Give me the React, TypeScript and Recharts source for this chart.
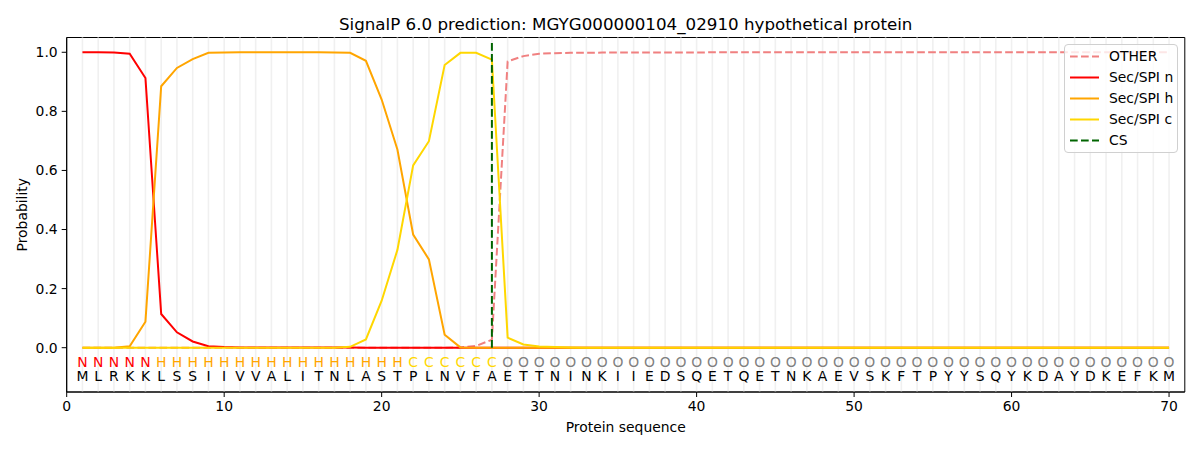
import {
  ComposedChart,
  Line,
  Scatter,
  XAxis,
  YAxis,
  ReferenceLine,
  ReferenceArea,
  Legend,
} from "recharts";

const FONT = "DejaVu Sans, sans-serif";

// residues of MGYG000000104_02910
const sequence = [
  "M", "L", "R", "K", "K", "L", "S", "S", "I", "I",
  "V", "V", "A", "L", "I", "T", "N", "L", "A", "S",
  "T", "P", "L", "N", "V", "F", "A", "E", "T", "T",
  "N", "I", "N", "K", "I", "I", "E", "D", "S", "Q",
  "E", "T", "Q", "E", "T", "N", "K", "A", "E", "V",
  "S", "K", "F", "T", "P", "Y", "Y", "S", "Q", "Y",
  "K", "D", "A", "Y", "D", "K", "E", "F", "K", "M",
];

// predicted region per residue
const regions = [
  "N", "N", "N", "N", "N", "H", "H", "H", "H", "H",
  "H", "H", "H", "H", "H", "H", "H", "H", "H", "H",
  "H", "C", "C", "C", "C", "C", "C", "O", "O", "O",
  "O", "O", "O", "O", "O", "O", "O", "O", "O", "O",
  "O", "O", "O", "O", "O", "O", "O", "O", "O", "O",
  "O", "O", "O", "O", "O", "O", "O", "O", "O", "O",
  "O", "O", "O", "O", "O", "O", "O", "O", "O", "O",
];

const otherProb = [
  0, 0, 0, 0, 0, 0, 0, 0, 0, 0,
  0, 0, 0, 0, 0, 0, 0, 0, 0, 0,
  0, 0, 0, 0, 0.001, 0.006, 0.027, 0.969, 0.987, 0.995,
  0.997, 0.998, 0.998, 0.999, 0.999, 0.999, 0.999, 0.999, 0.999, 0.999,
  1, 1, 1, 1, 1, 1, 1, 1, 1, 1,
  1, 1, 1, 1, 1, 1, 1, 1, 1, 1,
  1, 1, 1, 1, 1, 1, 1, 1, 1, 1,
];

const secN = [
  1, 1, 0.999, 0.995, 0.913, 0.114, 0.052, 0.021, 0.005, 0.002,
  0.001, 0.001, 0.001, 0.001, 0.001, 0.001, 0.001, 0.001, 0, 0,
  0, 0, 0, 0, 0, 0, 0, 0, 0, 0,
  0, 0, 0, 0, 0, 0, 0, 0, 0, 0,
  0, 0, 0, 0, 0, 0, 0, 0, 0, 0,
  0, 0, 0, 0, 0, 0, 0, 0, 0, 0,
  0, 0, 0, 0, 0, 0, 0, 0, 0, 0,
];

const secH = [
  0, 0, 0, 0.005, 0.088, 0.885, 0.947, 0.977, 0.998, 0.999,
  1, 1, 1, 1, 1, 1, 0.999, 0.998, 0.971, 0.84,
  0.671, 0.383, 0.299, 0.044, 0.001, 0, 0, 0, 0, 0,
  0, 0, 0, 0, 0, 0, 0, 0, 0, 0,
  0, 0, 0, 0, 0, 0, 0, 0, 0, 0,
  0, 0, 0, 0, 0, 0, 0, 0, 0, 0,
  0, 0, 0, 0, 0, 0, 0, 0, 0, 0,
];

const secC = [
  0, 0, 0, 0, 0, 0, 0, 0, 0, 0,
  0, 0, 0, 0, 0, 0, 0, 0.003, 0.028, 0.159,
  0.331, 0.617, 0.699, 0.957, 0.998, 0.998, 0.975, 0.034, 0.011, 0.004,
  0.002, 0.001, 0, 0, 0, 0, 0, 0, 0, 0,
  0, 0, 0, 0, 0, 0, 0, 0, 0, 0,
  0, 0, 0, 0, 0, 0, 0, 0, 0, 0,
  0, 0, 0, 0, 0, 0, 0, 0, 0, 0,
];

const cleavageSite = 27;
const xTicks = [0, 10, 20, 30, 40, 50, 60, 70];
const yTicks = [0, 0.2, 0.4, 0.6, 0.8, 1.0];

const regionColors: Record<string, string> = {
  N: "#ff0000",
  H: "#ffa500",
  C: "#ffd700",
  O: "#808080",
};

const legendItems = [
  { name: "OTHER", color: "#f08080", dashed: true },
  { name: "Sec/SPI n", color: "#ff0000", dashed: false },
  { name: "Sec/SPI h", color: "#ffa500", dashed: false },
  { name: "Sec/SPI c", color: "#ffd700", dashed: false },
  { name: "CS", color: "#006400", dashed: true },
];

const rows = sequence.map((aa, i) => ({
  pos: i + 1,
  other: otherProb[i],
  n: secN[i],
  h: secH[i],
  c: secC[i],
}));

const regionRow = regions.map((r, i) => ({ pos: i + 1, y: -0.064, ch: r, fill: regionColors[r] }));
const residueRow = sequence.map((aa, i) => ({ pos: i + 1, y: -0.113, ch: aa, fill: "#000000" }));

const Letter = (props: any) => {
  const { cx, cy, payload } = props;
  return (
    <text x={cx} y={cy} textAnchor="middle" fontSize={13.9} fontFamily={FONT} fill={payload.fill}>
      {payload.ch}
    </text>
  );
};

const LegendBox = () => (
  <div
    style={{
      boxSizing: "border-box",
      width: 114,
      background: "rgba(255,255,255,0.8)",
      border: "1px solid #d0d0d0",
      borderRadius: 4,
      padding: "0.5px 0 1.5px 0",
      fontFamily: FONT,
      fontSize: 13.9,
      color: "#000",
    }}
  >
    {legendItems.map((it) => (
      <div key={it.name} style={{ display: "flex", alignItems: "center", height: 21, whiteSpace: "nowrap" }}>
        <svg width={44} height={21} style={{ flexShrink: 0 }}>
          <line
            x1={5}
            x2={34}
            y1={10.5}
            y2={10.5}
            stroke={it.color}
            strokeWidth={2}
            strokeDasharray={it.dashed ? "7.7 3.3" : undefined}
          />
        </svg>
        <span>{it.name}</span>
      </div>
    ))}
  </div>
);

const SignalPChart = () => {
  return (
    <div style={{ position: "absolute", left: 0, top: 0, width: 1200, height: 450, background: "#fff" }}>
      {/* Title */}
      <div
        style={{
          position: "absolute",
          left: 66.7,
          width: 1118,
          top: 14,
          textAlign: "center",
          fontFamily: FONT,
          fontSize: 16.7,
          color: "#000",
        }}
      >
        SignalP 6.0 prediction: MGYG000000104_02910 hypothetical protein
      </div>

      <ComposedChart
        width={1200}
        height={450}
        data={rows}
        margin={{ top: 37.5, right: 15.2, bottom: 28, left: 6.7 }}
      >
        {residueRow.map((r) => (
          <ReferenceLine key={`g${r.pos}`} x={r.pos} stroke="#f0f0f0" strokeWidth={1.6} />
        ))}

        <XAxis
          dataKey="pos"
          type="number"
          domain={[0, 71]}
          ticks={xTicks}
          allowDataOverflow
          height={30}
          tickSize={5}
          tickMargin={4}
          axisLine={{ stroke: "#000" }}
          tickLine={{ stroke: "#000" }}
          tick={{ fill: "#000", fontSize: 13.9, fontFamily: FONT }}
          label={{
            content: (p: any) => (
              <text
                x={p.viewBox.x + p.viewBox.width / 2}
                y={431.5}
                textAnchor="middle"
                fontSize={13.9}
                fontFamily={FONT}
                fill="#000"
              >
                Protein sequence
              </text>
            ),
          }}
        />
        <YAxis
          type="number"
          domain={[-0.15, 1.05]}
          ticks={yTicks}
          allowDataOverflow
          width={60}
          tickSize={5}
          tickMargin={4}
          tickFormatter={(v: number) => v.toFixed(1)}
          axisLine={{ stroke: "#000" }}
          tickLine={{ stroke: "#000" }}
          tick={{ fill: "#000", fontSize: 13.9, fontFamily: FONT }}
          label={{
            content: (p: any) => {
              const cy = p.viewBox.y + p.viewBox.height / 2;
              return (
                <text
                  x={27}
                  y={cy}
                  transform={`rotate(-90, 27, ${cy})`}
                  textAnchor="middle"
                  fontSize={13.9}
                  fontFamily={FONT}
                  fill="#000"
                >
                  Probability
                </text>
              );
            },
          }}
        />

        <ReferenceArea x1={0} x2={71} y1={-0.15} y2={1.05} fill="none" stroke="#000" strokeWidth={1} />

        <Line type="linear" dataKey="other" stroke="#f08080" strokeWidth={2} strokeDasharray="7.7 3.3" dot={false} isAnimationActive={false} />
        <Line type="linear" dataKey="n" stroke="#ff0000" strokeWidth={2} dot={false} isAnimationActive={false} />
        <Line type="linear" dataKey="h" stroke="#ffa500" strokeWidth={2} dot={false} isAnimationActive={false} />
        <Line type="linear" dataKey="c" stroke="#ffd700" strokeWidth={2} dot={false} isAnimationActive={false} />

        <ReferenceLine
          segment={[
            { x: cleavageSite, y: 0 },
            { x: cleavageSite, y: 1.035 },
          ]}
          stroke="#006400"
          strokeWidth={2}
          strokeDasharray="7.7 3.3"
        />

        <Scatter data={regionRow} dataKey="y" shape={Letter} isAnimationActive={false} />
        <Scatter data={residueRow} dataKey="y" shape={Letter} isAnimationActive={false} />

        <Legend
          layout="vertical"
          align="center"
          verticalAlign="middle"
          content={() => <LegendBox />}
          wrapperStyle={{ position: "absolute", top: 44, left: 1064, width: 114 }}
        />
      </ComposedChart>
    </div>
  );
};

export default SignalPChart;
